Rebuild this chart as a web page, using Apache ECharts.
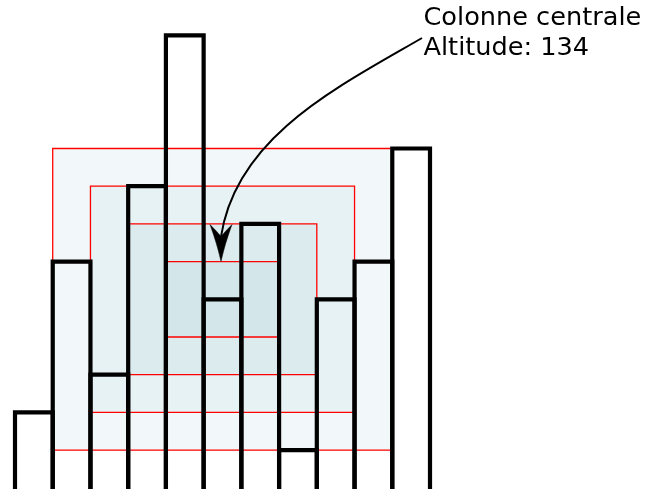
<!DOCTYPE html>
<html>
<head>
<meta charset="utf-8">
<script src="https://cdn.jsdelivr.net/npm/echarts@6/dist/echarts.min.js"></script>
<style>
  html, body { margin: 0; padding: 0; background: #ffffff; }
  #chart { width: 645px; height: 489px; }
</style>
</head>
<body>
<div id="chart"></div>
<script>
// ---- data ----
const categories = ['1', '2', '3', '4', '5', '6', '7', '8', '9', '10', '11'];
const heights = [2, 6, 3, 8, 12, 5, 7, 1, 5, 6, 9];
// concentric rings around the central column (outer -> inner)
const ringX0 = [1, 2, 3, 4];
const ringX1 = [10, 9, 8, 7];
const ringY0 = [1, 2, 3, 4];
const ringY1 = [9, 8, 7, 6];
// annotation
const labelLines = ['Colonne centrale', 'Altitude: 134'];
const annotatedColumn = 5;   // index of central column
const annotatedLevel = 6;    // top of innermost ring above it

const chart = echarts.init(document.getElementById('chart'), null, { renderer: 'canvas' });

const columnData = heights.map((h, i) => [i, h]);
const ringData = ringX0.map((x0, k) => [x0, ringY0[k], ringX1[k], ringY1[k]]);

const option = {
  backgroundColor: '#ffffff',
  animation: false,
  grid: { left: 15, top: 35.4, width: 415, height: 452.4 },
  xAxis: { type: 'value', min: 0, max: 11, show: false },
  yAxis: { type: 'value', min: 0, max: 12, show: false },
  series: [
    {
      type: 'custom',
      z: 1,
      data: ringData,
      renderItem: function (params, api) {
        const a = api.coord([api.value(0), api.value(3)]);
        const b = api.coord([api.value(2), api.value(1)]);
        return {
          type: 'rect',
          shape: { x: a[0], y: a[1], width: b[0] - a[0], height: b[1] - a[1] },
          style: { fill: 'rgba(150,200,210,0.124)', stroke: '#ff0000', lineWidth: 1.3 }
        };
      }
    },
    {
      type: 'custom',
      z: 2,
      data: columnData,
      renderItem: function (params, api) {
        const i = api.value(0), h = api.value(1);
        const pL = api.coord([i, h]);
        const pR = api.coord([i + 1, h]);
        const bL = api.coord([i, -0.05]);
        const bR = api.coord([i + 1, -0.05]);
        return {
          type: 'polyline',
          shape: { points: [bL, pL, pR, bR] },
          style: { stroke: '#000000', lineWidth: 4.2, fill: null, lineJoin: 'miter' }
        };
      }
    }
  ]
};
chart.setOption(option);

// annotation anchored to the central column via the chart's scales
const tip = chart.convertToPixel({ xAxisIndex: 0, yAxisIndex: 0 }, [annotatedColumn + 0.5, annotatedLevel]);
const tx = tip[0] - 1.5, ty = tip[1];
const p0 = [422, 38];
const p3 = [tx, ty - 25];
const p1 = [p0[0] - 86.5, p0[1] + 50];
const p2 = [p3[0] + 15, p3[1] - 99];

// arrowhead outline sampled from quadratic segments
function quad(a, c, b, n) {
  const pts = [];
  for (let k = 1; k <= n; k++) {
    const t = k / n, u = 1 - t;
    pts.push([u * u * a[0] + 2 * u * t * c[0] + t * t * b[0], u * u * a[1] + 2 * u * t * c[1] + t * t * b[1]]);
  }
  return pts;
}
const T = [tx, ty], L = [tx - 11, ty - 37], N = [tx, ty - 25], R = [tx + 11, ty - 37];
let headPts = [T];
headPts = headPts.concat(quad(T, [tx - 4, ty - 18], L, 10));
headPts = headPts.concat(quad(L, [tx - 4, ty - 30], N, 8));
headPts = headPts.concat(quad(N, [tx + 4, ty - 30], R, 8));
headPts = headPts.concat(quad(R, [tx + 4, ty - 18], T, 10));

chart.setOption({
  graphic: [
    {
      type: 'bezierCurve', z: 10,
      shape: { x1: p0[0], y1: p0[1], cpx1: p1[0], cpy1: p1[1], cpx2: p2[0], cpy2: p2[1], x2: p3[0], y2: p3[1] },
      style: { stroke: '#000000', lineWidth: 2, fill: null }
    },
    {
      type: 'polygon', z: 10,
      shape: { points: headPts },
      style: { fill: '#000000', stroke: '#000000', lineWidth: 0.5 }
    },
    {
      type: 'text', z: 10,
      left: 423.5, top: 3.4,
      style: {
        text: labelLines.join('\n'),
        fill: '#000000',
        font: '25.6px "DejaVu Sans"',
        lineHeight: 30
      }
    }
  ]
});
</script>
</body>
</html>
